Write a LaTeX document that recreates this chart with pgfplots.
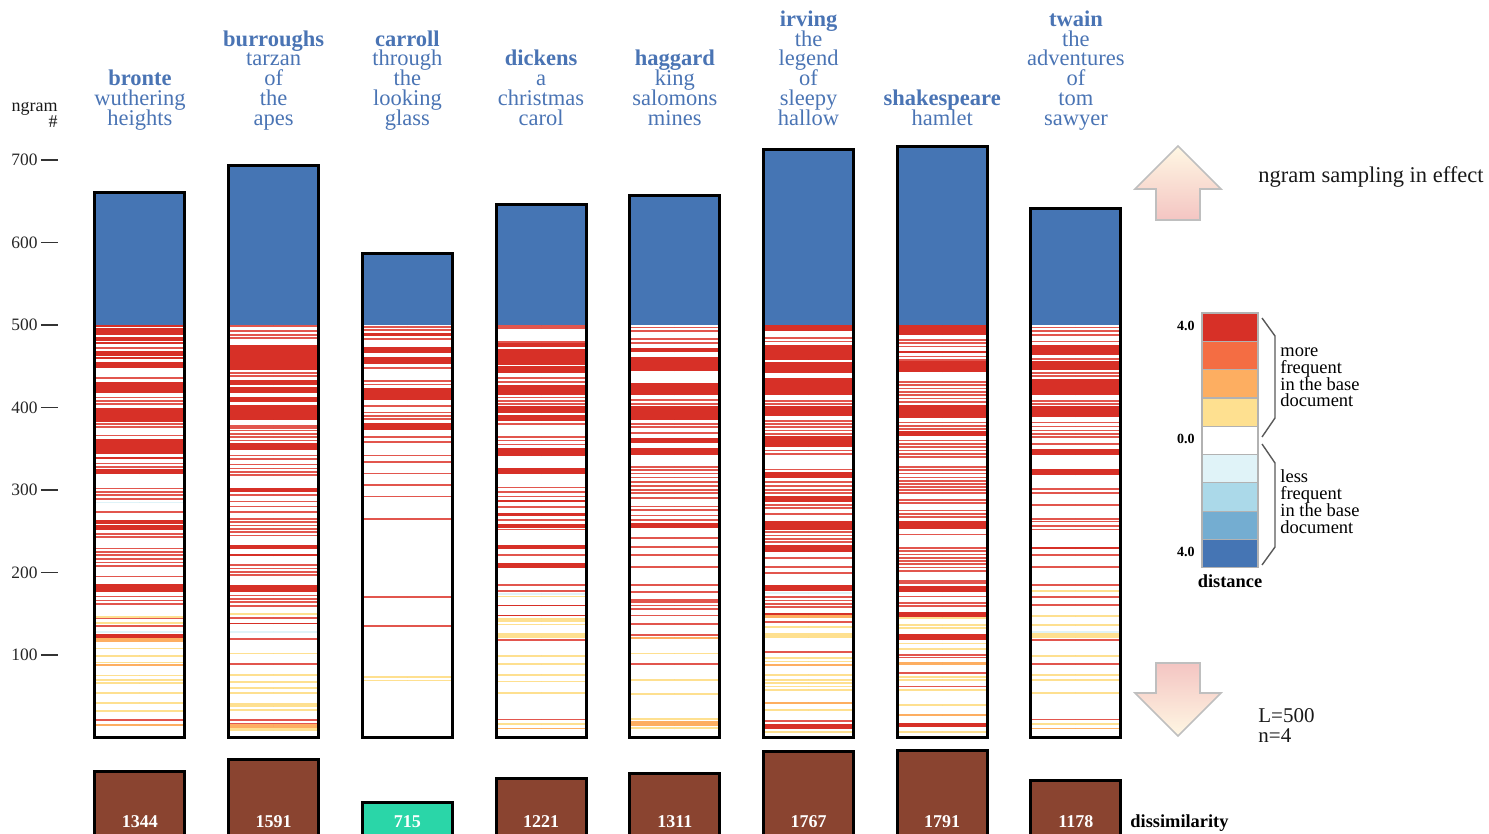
\documentclass[border=0pt]{standalone}
\usepackage{fontspec}
\setmainfont{Liberation Serif}
\usepackage{pgfplots}
\usepackage{pgfplotstable}
\pgfplotsset{compat=1.18}

\definecolor{cBlue}{HTML}{4575B4}
\definecolor{cRed}{HTML}{D73027}
\definecolor{cPink}{HTML}{E2564E}
\definecolor{cOrRed}{HTML}{F46D43}
\definecolor{cOrange}{HTML}{FDAE61}
\definecolor{cYellow}{HTML}{FEE090}
\definecolor{cLBlue}{HTML}{E0F3F8}
\definecolor{cBlue2}{HTML}{ABD9E9}
\definecolor{cBlue3}{HTML}{74ADD1}
\definecolor{cTitle}{HTML}{4A74B4}
\definecolor{cBrown}{HTML}{8A4430}
\definecolor{cTeal}{HTML}{2AD6A8}

% total ngram counts per text
\pgfplotstableread{
x top
0 661
1 693
2 587
3 646
4 657
5 713
6 716
7 641
}\bars

% dissimilarity
\pgfplotstableread{
x d
0 1344
1 1591
2 715
3 1221
4 1311
5 1767
6 1791
7 1178
}\dissim

% thick red bands: x lo hi
\pgfplotstableread{
x lo hi
0 497 500
0 488 496
0 481 486
0 477 479.5
0 463 469
0 459 461
0 448 455
0 418 431
0 382 400
0 344 362
0 338 340
0 319 326
0 259 264
0 252 257
0 176 186
0 121 125
1 445 476
1 427 433
1 418 425
1 407 413
1 385 403
1 348 357
1 297 302
1 228 233
1 220 223
1 176 185
1 137 139
2 487 490
2 466 473
2 453 461
2 409 424
2 373 381
3 473 478
3 452 471
3 442 450
3 415 427
3 393 402
3 384 391
3 341 351
3 319 327
3 285 288
3 269 272
3 254 259
3 228 233
3 206 212
3 159 161
3 147 149
4 467 472
4 444 461
4 415 430
4 385 402
4 357 363
4 343 351
4 254 260
5 493 500
5 458 476
5 442 455
5 415 436
5 390 402
5 352 365
5 315 322
5 285 293
5 251 262
5 225 233
5 178 185
5 148 151
5 10 16
6 488 500
6 466 469
6 443 456
6 387 403
6 366 371
6 253 262
6 176 184
6 146 152
6 118 126
6 13 18
7 464 476
7 446 456
7 415 434
7 388 402
7 343 350
7 318 326
7 228 231
}\redbands

% thin red lines: x y
\pgfplotstableread{
x y
0 472
0 436
0 404
0 408
0 412
0 376
0 380
0 366
0 328
0 332
0 294
0 298
0 302
0 289
0 273
0 243
0 247
0 221
0 225
0 229
0 208
0 212
0 216
0 195
0 171
0 162
0 166
0 145
0 135
0 21
1 499
1 493
1 484
1 488
1 438
1 442
1 375
1 378
1 360
1 364
1 368
1 372
1 338
1 342
1 318
1 322
1 326
1 331
1 294
1 280
1 286
1 273
1 257
1 261
1 265
1 245
1 249
1 253
1 197
1 201
1 205
1 209
1 159
1 164
1 168
1 172
1 145
1 119
1 89
1 21
1 16
2 498
2 494
2 483
2 448
2 428
2 432
2 402
2 386
2 390
2 394
2 364
2 358
2 342
2 334
2 320
2 306
2 292
2 265
2 170
2 135
3 496
3 499
3 479
3 431
3 436
3 404
3 408
3 412
3 380
3 360
3 364
3 355
3 298
3 303
3 292
3 279
3 264
3 252
3 221
3 185
3 178
3 118
3 22
4 497
4 493
4 478
4 483
4 404
4 409
4 376
4 380
4 369
4 320
4 324
4 328
4 296
4 300
4 305
4 310
4 315
4 290
4 276
4 280
4 264
4 269
4 242
4 231
4 221
4 207
4 185
4 176
4 156
4 160
4 164
4 167
4 148
4 138
4 124
4 89
5 480
5 484
5 404
5 408
5 368
5 372
5 376
5 380
5 384
5 344
5 348
5 296
5 300
5 305
5 310
5 325
5 278
5 282
5 271
5 237
5 241
5 245
5 249
5 218
5 207
5 199
5 158
5 162
5 166
5 170
5 140
5 104
5 20
6 474
6 478
6 482
6 458
6 462
6 407
6 411
6 415
6 419
6 423
6 427
6 431
6 374
6 378
6 382
6 340
6 344
6 348
6 352
6 356
6 360
6 320
6 324
6 328
6 307
6 311
6 315
6 296
6 300
6 304
6 284
6 288
6 267
6 271
6 275
6 246
6 202
6 206
6 210
6 214
6 218
6 222
6 226
6 230
6 187
6 190
6 171
6 159
6 163
6 97
6 100
6 78
6 62
7 497
7 488
7 493
7 480
7 459
7 438
7 442
7 404
7 408
7 372
7 377
7 382
7 364
7 368
7 356
7 296
7 301
7 282
7 262
7 265
7 256
7 252
7 221
7 207
7 185
7 170
7 161
7 118
7 89
7 22
}\redlines

% yellow lines
\pgfplotstableread{
x y
0 146
0 139
0 108
0 99
0 91
0 75
0 66
0 70
0 54
0 42
0 32
1 150
1 102
1 76
1 67
1 60
1 54
1 33
2 69
2 73
3 171
3 137
3 141
3 144
3 99
3 89
3 76
3 68
3 54
3 16
4 102
4 70
4 53
5 134
5 92
5 96
5 76
5 58
5 62
5 66
5 70
5 33
5 7
6 145
6 133
6 136
6 114
6 107
6 70
6 73
6 58
6 39
6 7
7 178
7 147
7 136
7 99
7 70
7 76
7 54
7 16
}\yellowlines

% yellow bands
\pgfplotstableread{
x lo hi
1 37 42
1 8 12
3 121 127
4 21 24
4 10 13
5 121 127
7 121 127
}\yellowbands

% orange lines
\pgfplotstableread{
x y
0 117
0 119
0 88
0 15
1 13
1 15
3 11
4 121
5 88
5 42
6 89
6 91
6 27
7 11
}\orangelines

% orange bands
\pgfplotstableread{
x lo hi
4 14 20
5 145 148
}\orangebands

% light blue lines
\pgfplotstableread{
x y
0 285
0 128
1 128
3 174
5 175
7 128
}\bluelines

\pgfplotsset{
  nomark/.style={only marks, mark=*, mark size=0pt, mark options={draw=none, fill=none}, forget plot},
  band/.style={nomark,
    error bars/.cd, y dir=plus, y explicit, error mark=none,
    error bar style={line width=43.5pt, draw=#1}},
  stripe/.style={nomark,
    error bars/.cd, x dir=both, x fixed=0.3253, error mark=none,
    error bar style={line width=0.85pt, draw=#1}},
}
\tikzset{
  coltitle/.style={align=center, anchor=base, text=cTitle, inner sep=0pt,
    font=\fontsize{11.25}{9.85}\selectfont},
}

\begin{document}
\lineskiplimit=-30pt
\lineskip=0pt
\begin{tikzpicture}
\useasboundingbox (0,0) rectangle (744.5pt,-417pt);

\begin{axis}[
  at={(29pt,-368.75pt)}, anchor=south west,
  scale only axis, width=542.4pt, height=297pt,
  xmin=-0.613, xmax=7.5, ymin=0, ymax=720,
  clip=false,
  axis x line=none, axis y line*=left,
  y axis line style={draw=none},
  ytick={100,200,...,700},
  tick align=outside, major tick length=8.5pt,
  ytick style={draw=black!80, line width=0.9pt},
  yticklabel style={font=\fontsize{8.7}{10}\selectfont, text=black!85, inner sep=1.5pt},
  /pgf/number format/assume math mode=true,
]
% blue part above L=500
\addplot[band=cBlue] table[x=x, y expr=500, y error expr=\thisrow{top}-500] {\bars};
% stripes
\addplot[band=cRed] table[x=x, y=lo, y error expr=\thisrow{hi}-\thisrow{lo}] {\redbands};
\addplot[stripe=cPink] table[x=x, y=y] {\redlines};
\addplot[band=cYellow] table[x=x, y=lo, y error expr=\thisrow{hi}-\thisrow{lo}] {\yellowbands};
\addplot[stripe=cYellow] table[x=x, y=y] {\yellowlines};
\addplot[band=cOrange] table[x=x, y=lo, y error expr=\thisrow{hi}-\thisrow{lo}] {\orangebands};
\addplot[stripe=cOrange] table[x=x, y=y] {\orangelines};
\addplot[stripe=cLBlue] table[x=x, y=y] {\bluelines};
% outlines
\addplot[ybar, bar width=45pt, bar shift=0pt, fill=none, draw=black, line width=1.5pt] table[x=x, y=top] {\bars};

% column titles
\node[coltitle] at (axis cs:0,742.4) {\textbf{bronte}\\wuthering\\heights};
\node[coltitle] at (axis cs:1,742.4) {\textbf{burroughs}\\tarzan\\of\\the\\apes};
\node[coltitle] at (axis cs:2,742.4) {\textbf{carroll}\\through\\the\\looking\\glass};
\node[coltitle] at (axis cs:3,742.4) {\textbf{dickens}\\a\\christmas\\carol};
\node[coltitle] at (axis cs:4,742.4) {\textbf{haggard}\\king\\salomons\\mines};
\node[coltitle] at (axis cs:5,742.4) {\textbf{irving}\\the\\legend\\of\\sleepy\\hallow};
\node[coltitle] at (axis cs:6,742.4) {\textbf{shakespeare}\\hamlet};
\node[coltitle] at (axis cs:7,742.4) {\textbf{twain}\\the\\adventures\\of\\tom\\sawyer};
\end{axis}

% dissimilarity bars
\begin{axis}[
  at={(29pt,-419pt)}, anchor=south west,
  scale only axis, width=542.4pt, height=49.13pt,
  xmin=-0.613, xmax=7.5, ymin=0, ymax=2000,
  clip=false, hide axis,
]
\addplot[ybar, bar width=45pt, bar shift=0pt, fill=cBrown, draw=black, line width=1.5pt] table[x=x, y=d] {\dissim};
\addplot[ybar, bar width=45pt, bar shift=0pt, fill=cTeal, draw=black, line width=1.5pt] coordinates {(2,715)};
\addplot[nomark, nodes near coords, point meta=explicit symbolic,
  every node near coord/.style={anchor=base, yshift=5.5pt, text=white, inner sep=0pt,
    font=\fontsize{9}{10}\selectfont\bfseries}]
  table[x=x, y expr=0, meta=d] {\dissim};
\end{axis}

% decorations in pixel coordinates
\begin{scope}[x=0.5pt, y=-0.5pt]
\node[align=right, anchor=base east, inner sep=0pt, text=black!90,
  font=\fontsize{9}{8.2}\selectfont] at (58,128) {ngram\\\#};

% up arrow
\shade[top color=cYellow!25!white, bottom color=cRed!28!white, draw=black!25, line width=0.8pt]
  (1178,146) -- (1221,189) -- (1200,189) -- (1200,220) -- (1156,220) -- (1156,189) -- (1135,189) -- cycle;
\node[anchor=base west, inner sep=0pt, text=black!90, font=\fontsize{11.25}{12}\selectfont]
  at (1258,183) {ngram sampling in effect};

% down arrow
\shade[top color=cRed!28!white, bottom color=cYellow!25!white, draw=black!25, line width=0.8pt]
  (1156,663) -- (1200,663) -- (1200,693) -- (1221,693) -- (1178,736) -- (1135,693) -- (1156,693) -- cycle;
\node[anchor=base west, align=left, inner sep=0pt, text=black!90,
  font=\fontsize{10.5}{9.8}\selectfont] at (1258,742) {L=500\\n=4};

% colour key
\foreach \col [count=\k from 0] in {cRed,cOrRed,cOrange,cYellow,white,cLBlue,cBlue2,cBlue3,cBlue}
  \filldraw[fill=\col, draw=black!30, line width=0.6pt] (1202,{313+\k*28.3}) rectangle (1258,{313+(\k+1)*28.3});
\node[anchor=base east, inner sep=0pt, font=\fontsize{7}{8}\selectfont\bfseries] at (1195,331) {4.0};
\node[anchor=base east, inner sep=0pt, font=\fontsize{7}{8}\selectfont\bfseries] at (1195,443) {0.0};
\node[anchor=base east, inner sep=0pt, font=\fontsize{7}{8}\selectfont\bfseries] at (1195,556) {4.0};
\draw[black!65, line width=0.7pt] (1262,318) -- (1275,336) -- (1275,418) -- (1262,437);
\draw[black!65, line width=0.7pt] (1262,444) -- (1275,463) -- (1275,547) -- (1262,565);
\node[anchor=base west, align=left, inner sep=0pt, font=\fontsize{9.25}{8.4}\selectfont]
  at (1280,407) {more\\frequent\\in the base\\document};
\node[anchor=base west, align=left, inner sep=0pt, font=\fontsize{9.25}{8.4}\selectfont]
  at (1280,533) {less\\frequent\\in the base\\document};
\node[anchor=base, inner sep=0pt, font=\fontsize{9.2}{10}\selectfont\bfseries] at (1230,587) {distance};

\node[anchor=base west, inner sep=0pt, font=\fontsize{9.2}{10}\selectfont\bfseries] at (1130,827) {dissimilarity};
\end{scope}
\end{tikzpicture}
\end{document}
